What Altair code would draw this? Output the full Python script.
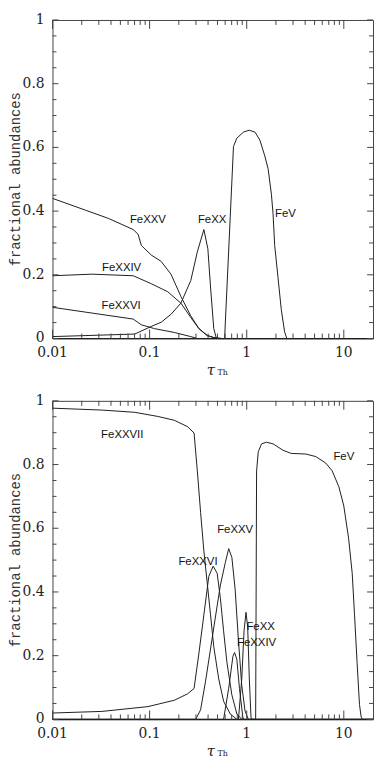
import altair as alt
import pandas as pd

# ---------------- data: top panel ----------------
T_FEXXV_X = [0.01, 0.0218, 0.0377, 0.0678, 0.0762, 0.0822, 0.104, 0.1315, 0.166, 0.21, 0.2655, 0.322, 0.392, 0.458, 0.55, 20]
T_FEXXV_Y = [0.44, 0.403, 0.377, 0.342, 0.327, 0.292, 0.262, 0.242, 0.202, 0.132, 0.071, 0.031, 0.009, 0.003, 0.0, 0.0]
T_FEXXIV_X = [0.01, 0.0255, 0.0678, 0.104, 0.1535, 0.21, 0.2655, 0.322, 0.392, 0.458, 0.55, 20]
T_FEXXIV_Y = [0.197, 0.202, 0.197, 0.172, 0.147, 0.111, 0.066, 0.031, 0.01, 0.003, 0.0, 0.0]
T_FEXXVI_X = [0.01, 0.0678, 0.0822, 0.1125, 0.1796, 0.2655, 0.31, 20]
T_FEXXVI_Y = [0.098, 0.061, 0.043, 0.031, 0.019, 0.006, 0.0, 0.0]
T_FEXX_X = [0.01, 0.0703, 0.104, 0.1315, 0.166, 0.21, 0.2655, 0.31, 0.362, 0.398, 0.424, 0.458, 0.488, 20]
T_FEXX_Y = [0.006, 0.014, 0.038, 0.051, 0.076, 0.111, 0.182, 0.272, 0.342, 0.282, 0.162, 0.031, 0.0, 0.0]
T_FEV_X = [0.01, 0.592, 0.731, 0.792, 0.925, 1.06, 1.216, 1.367, 1.536, 1.661, 1.796, 1.867, 1.942, 2.10, 2.27, 2.455, 2.59, 20]
T_FEV_Y = [0.0, 0.0, 0.603, 0.629, 0.648, 0.654, 0.648, 0.623, 0.573, 0.533, 0.453, 0.392, 0.292, 0.192, 0.091, 0.021, 0.0, 0.0]

T_LABELS = ["FeXXV", "FeXX", "FeV", "FeXXIV", "FeXXVI"]
T_LABEL_X = [0.096, 0.44, 2.51, 0.0515, 0.0508]
T_LABEL_Y = [0.373, 0.373, 0.39, 0.222, 0.1015]

# ---------------- data: bottom panel ----------------
B_FEXXVII_X = [0.01, 0.0322, 0.0703, 0.1216, 0.1795, 0.2455, 0.287, 0.31, 0.335, 0.362, 0.392, 0.424, 0.458, 0.515, 0.578, 0.677, 0.793, 20]
B_FEXXVII_Y = [0.977, 0.971, 0.964, 0.951, 0.939, 0.919, 0.899, 0.78, 0.65, 0.529, 0.429, 0.328, 0.228, 0.127, 0.057, 0.017, 0.0, 0.0]
B_FEXXVI_X = [0.01, 0.0322, 0.096, 0.1795, 0.2455, 0.287, 0.322, 0.362, 0.407, 0.451, 0.496, 0.536, 0.578, 0.626, 0.703, 0.792, 0.891, 20]
B_FEXXVI_Y = [0.02, 0.025, 0.04, 0.06, 0.08, 0.097, 0.208, 0.328, 0.449, 0.481, 0.459, 0.379, 0.278, 0.178, 0.077, 0.017, 0.0, 0.0]
B_FEXXV_X = [0.01, 0.298, 0.335, 0.377, 0.424, 0.476, 0.536, 0.602, 0.652, 0.703, 0.76, 0.822, 0.889, 0.961, 1.04, 20]
B_FEXXV_Y = [0.0, 0.0, 0.03, 0.12, 0.221, 0.321, 0.422, 0.492, 0.536, 0.509, 0.409, 0.248, 0.107, 0.027, 0.0, 0.0]
B_FEXXIV_X = [0.01, 0.578, 0.652, 0.721, 0.75, 0.792, 0.842, 0.912, 0.93, 20]
B_FEXXIV_Y = [0.0, 0.0, 0.097, 0.198, 0.21, 0.188, 0.097, 0.007, 0.0, 0.0]
B_FEXX_X = [0.01, 0.822, 0.889, 0.939, 0.984, 1.024, 1.064, 1.107, 1.124, 20]
B_FEXX_Y = [0.0, 0.0, 0.127, 0.278, 0.336, 0.288, 0.127, 0.007, 0.0, 0.0]
B_FEV_X = [0.01, 1.236, 1.264, 1.315, 1.422, 1.598, 1.867, 2.36, 2.87, 4.07, 5.15, 6.5, 7.6, 8.9, 10.0, 11.2, 12.2, 12.9, 13.7, 14.5, 15.1, 15.6, 20]
B_FEV_Y = [0.0, 0.0, 0.78, 0.84, 0.865, 0.87, 0.865, 0.845, 0.835, 0.833, 0.825, 0.805, 0.78, 0.73, 0.67, 0.569, 0.459, 0.328, 0.178, 0.047, 0.007, 0.0, 0.0]

B_LABELS = ["FeXXVII", "FeV", "FeXXV", "FeXXVI", "FeXX", "FeXXIV"]
B_LABEL_X = [0.0523, 10.0, 0.76, 0.315, 1.39, 1.264]
B_LABEL_Y = [0.894, 0.823, 0.594, 0.494, 0.291, 0.239]

# ---------------- axis ticks and tick labels ----------------
X_MAJOR = [0.01, 0.1, 1, 10]
X_TICK_LABELS = ["0.01", "0.1", "1", "10"]
X_MINOR = [m * d for d in [0.01, 0.1, 1] for m in range(2, 10)]
Y_MAJOR = [0, 0.2, 0.4, 0.6, 0.8, 1]
Y_TICK_LABELS = ["0", "0.2", "0.4", "0.6", "0.8", "1"]
Y_MINOR = [0.05, 0.1, 0.15, 0.25, 0.3, 0.35, 0.45, 0.5, 0.55, 0.65, 0.7, 0.75, 0.85, 0.9, 0.95]
Y_TITLE = "fractional abundances"

W, H = 324, 322
LINE_COLOR = "#1e1e1e"
TICK_COLOR = "#444444"
SERIF = "DejaVu Serif"

XS = alt.Scale(type="log", domain=[0.01, 20], nice=False)
YS = alt.Scale(domain=[0, 1], nice=False)


def X(field):
    return alt.X(field, scale=XS, axis=None)


def Y(field):
    return alt.Y(field, scale=YS, axis=None)


def long_df(series):
    rows = []
    for name, xs, ys in series:
        for x, y in zip(xs, ys):
            rows.append({"ion": name, "x": x, "y": y})
    return pd.DataFrame(rows)


def panel(series, labels, lx, ly):
    lines = alt.Chart(long_df(series)).mark_line(color=LINE_COLOR, strokeWidth=1).encode(
        x=X("x:Q"), y=Y("y:Q"), detail="ion:N",
    )
    lab = alt.Chart(pd.DataFrame({"x": lx, "y": ly, "label": labels})).mark_text(
        font="Liberation Sans", fontSize=11.5, color="#111", align="center", baseline="middle"
    ).encode(x=X("x:Q"), y=Y("y:Q"), text="label:N")

    def xt(vals, length, top):
        return alt.Chart(pd.DataFrame({"t": vals})).mark_rule(color=TICK_COLOR, strokeWidth=1).encode(
            x=X("t:Q"),
            y=alt.value(0 if top else H),
            y2=alt.value(length if top else H - length),
        )

    def yt(vals, length, right):
        return alt.Chart(pd.DataFrame({"t": vals})).mark_rule(color=TICK_COLOR, strokeWidth=1).encode(
            y=Y("t:Q"),
            x=alt.value(W if right else 0),
            x2=alt.value(W - length if right else length),
        )

    ticks = [xt(X_MAJOR, 9, False), xt(X_MINOR, 5, False), xt(X_MAJOR, 9, True), xt(X_MINOR, 5, True),
             yt(Y_MAJOR, 6, False), yt(Y_MINOR, 4, False), yt(Y_MAJOR, 6, True), yt(Y_MINOR, 4, True)]

    xlab = alt.Chart(pd.DataFrame({"t": X_MAJOR, "s": X_TICK_LABELS})).mark_text(
        font=SERIF, fontSize=14, color="#222", align="center", baseline="middle"
    ).encode(x=X("t:Q"), y=alt.value(H + 15), text="s:N")
    ylab = alt.Chart(pd.DataFrame({"t": Y_MAJOR, "s": Y_TICK_LABELS})).mark_text(
        font=SERIF, fontSize=14, color="#222", align="right", baseline="middle"
    ).encode(y=Y("t:Q"), x=alt.value(-8), text="s:N")
    ytitle = alt.Chart(pd.DataFrame({"s": [Y_TITLE]})).mark_text(
        font="Liberation Mono", fontSize=14, color="#333", angle=270, align="center", baseline="middle"
    ).encode(text="s:N", x=alt.value(-37), y=alt.value(H / 2))

    tau = alt.Chart(pd.DataFrame({"t": ["τ"]})).mark_text(
        font=SERIF, fontSize=15, fontStyle="italic", color="#222", align="center", baseline="middle"
    ).encode(text="t:N", x=alt.value(160), y=alt.value(H + 32))
    sub = alt.Chart(pd.DataFrame({"t": ["Th"]})).mark_text(
        font=SERIF, fontSize=8, color="#222", align="center", baseline="middle"
    ).encode(text="t:N", x=alt.value(172), y=alt.value(H + 35))

    return alt.layer(lines, lab, *ticks, xlab, ylab, ytitle, tau, sub).properties(width=W, height=H)


top = panel(
    [("FeXXV", T_FEXXV_X, T_FEXXV_Y), ("FeXXIV", T_FEXXIV_X, T_FEXXIV_Y),
     ("FeXXVI", T_FEXXVI_X, T_FEXXVI_Y), ("FeXX", T_FEXX_X, T_FEXX_Y), ("FeV", T_FEV_X, T_FEV_Y)],
    T_LABELS, T_LABEL_X, T_LABEL_Y)
bottom = panel(
    [("FeXXVII", B_FEXXVII_X, B_FEXXVII_Y), ("FeXXVI", B_FEXXVI_X, B_FEXXVI_Y),
     ("FeXXV", B_FEXXV_X, B_FEXXV_Y), ("FeXXIV", B_FEXXIV_X, B_FEXXIV_Y),
     ("FeXX", B_FEXX_X, B_FEXX_Y), ("FeV", B_FEV_X, B_FEV_Y)],
    B_LABELS, B_LABEL_X, B_LABEL_Y)

chart = alt.vconcat(top, bottom, spacing=14).properties(
    padding={"left": 0, "top": 0, "right": 0, "bottom": 0}
).configure_view(stroke="#444444", strokeWidth=1)

chart.save("out.html", embed_options={"renderer": "svg", "actions": False})
